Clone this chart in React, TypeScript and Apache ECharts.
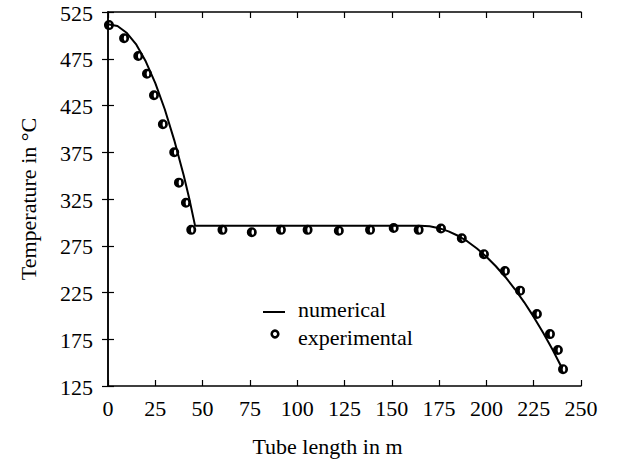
import React, { useEffect, useRef } from "react";
import * as echarts from "echarts";

const xTicks = [0, 25, 50, 75, 100, 125, 150, 175, 200, 225, 250];
const yTicks = [125, 175, 225, 275, 325, 375, 425, 475, 525];

// numerical (simulation) curve
const numX = [0, 5, 10, 15, 20, 25, 30, 35, 40, 43, 46, 60, 80, 100, 120, 140, 160, 165, 170, 175, 180, 185, 190, 195, 200, 205, 210, 215, 220, 225, 230, 235, 240];
const numY = [512, 510, 502.5, 490, 472, 449, 421, 388, 350.5, 325, 296.5, 296.5, 296.5, 296.5, 296.5, 296.5, 296.5, 296.5, 295.8, 293.8, 290.4, 285.7, 279.6, 272.1, 263.3, 253.1, 241.6, 228.7, 214.5, 198.9, 182, 163.7, 144];

const expX = [0.5, 8.5, 16, 20.6, 24.3, 29, 35, 37.5, 41.2, 44, 60.5, 76, 91.4, 105.5, 122, 138.5, 151, 164.2, 176, 187, 198.7, 209.8, 217.8, 226.7, 233.6, 237.8, 240.5];
const expY = [511, 497, 478, 459, 436, 405, 375, 342.5, 321, 292, 292, 289.5, 292, 292, 291, 292, 294, 292, 293.5, 283, 266, 248, 227, 202, 180.5, 163.5, 143];

const FONT = "Liberation Serif";
const FS = 22;

const markerPath =
  "path://M5,0 A5,5 0 1,0 5,10 A5,5 0 1,0 5,0 Z M6,2.2 A1.3,2.8 0 1,1 6,7.8 A1.3,2.8 0 1,1 6,2.2 Z";

export default function App() {
  const ref = useRef<HTMLDivElement>(null);
  useEffect(() => {
    if (!ref.current) return;
    const chart = echarts.init(ref.current, undefined, { renderer: "svg" });
    const axisLine = { show: true, lineStyle: { color: "#000", width: 1.5 } };
    const tick = { show: true, inside: true, length: 6, lineStyle: { color: "#000", width: 1.2 } };
    const xBase = { type: "value" as const, min: 0, max: 250, interval: 25, splitLine: { show: false }, axisLine, axisTick: tick, axisLabel: { show: false } };
    const yBase = { type: "value" as const, min: 125, max: 525, interval: 50, splitLine: { show: false }, axisLine, axisTick: tick, axisLabel: { show: false } };
    chart.setOption({
      animation: false,
      backgroundColor: "#fff",
      textStyle: { fontFamily: FONT },
      grid: { left: 108, right: 36, top: 12, bottom: 77, containLabel: false },
      xAxis: [
        { ...xBase, position: "bottom" },
        { ...xBase, position: "top" },
      ],
      yAxis: [
        {
          ...yBase,
          position: "left",
          name: "Temperature in °C",
          nameLocation: "middle",
          nameGap: 69,
          nameTextStyle: { fontFamily: FONT, fontSize: FS, color: "#000" },
        },
        { ...yBase, position: "right" },
      ],
      series: [
        {
          name: "numerical",
          type: "line",
          data: numX.map((x, i) => [x, numY[i]]),
          symbol: "none",
          showSymbol: false,
          lineStyle: { color: "#000", width: 2 },
          itemStyle: { color: "#000" },
          z: 2,
        },
        {
          name: "experimental",
          type: "scatter",
          data: expX.map((x, i) => [x, expY[i]]),
          symbol: markerPath,
          symbolSize: 10,
          itemStyle: { color: "#000", opacity: 1 },
          z: 3,
        },
      ],
    });

    const bottomY = chart.convertToPixel({ yAxisIndex: 0 }, 125) as number;
    const leftX = chart.convertToPixel({ xAxisIndex: 0 }, 0) as number;
    const rightX = chart.convertToPixel({ xAxisIndex: 0 }, 250) as number;
    const txt = (text: string, x: number, y: number, align: string, va: string) => ({
      type: "text",
      x,
      y,
      silent: true,
      style: { text, fontFamily: FONT, fontSize: FS, fill: "#000", align, verticalAlign: va },
    });
    const graphics: any[] = [];
    xTicks.forEach((v) => {
      const px = chart.convertToPixel({ xAxisIndex: 0 }, v) as number;
      graphics.push(txt(String(v), px, bottomY + 11, "center", "top"));
    });
    yTicks.forEach((v) => {
      const py = chart.convertToPixel({ yAxisIndex: 0 }, v) as number;
      graphics.push(txt(String(v), leftX - 15, py + 1, "right", "middle"));
    });
    graphics.push(txt("Tube length in m", (leftX + rightX) / 2 - 17, bottomY + 60, "center", "middle"));
    // legend
    graphics.push({
      type: "line",
      silent: true,
      shape: { x1: 263, y1: 312, x2: 285, y2: 312 },
      style: { stroke: "#000", lineWidth: 2 },
    });
    graphics.push(txt("numerical", 298, 309, "left", "middle"));
    graphics.push({
      type: "circle",
      silent: true,
      shape: { cx: 275, cy: 334, r: 3.3 },
      style: { fill: "#fff", stroke: "#000", lineWidth: 2.6 },
    });
    graphics.push(txt("experimental", 298, 337, "left", "middle"));
    chart.setOption({ graphic: graphics });

    return () => chart.dispose();
  }, []);
  return (
    <div
      ref={ref}
      style={{ position: "fixed", left: 0, top: 0, width: 617, height: 463, background: "#fff" }}
    />
  );
}
